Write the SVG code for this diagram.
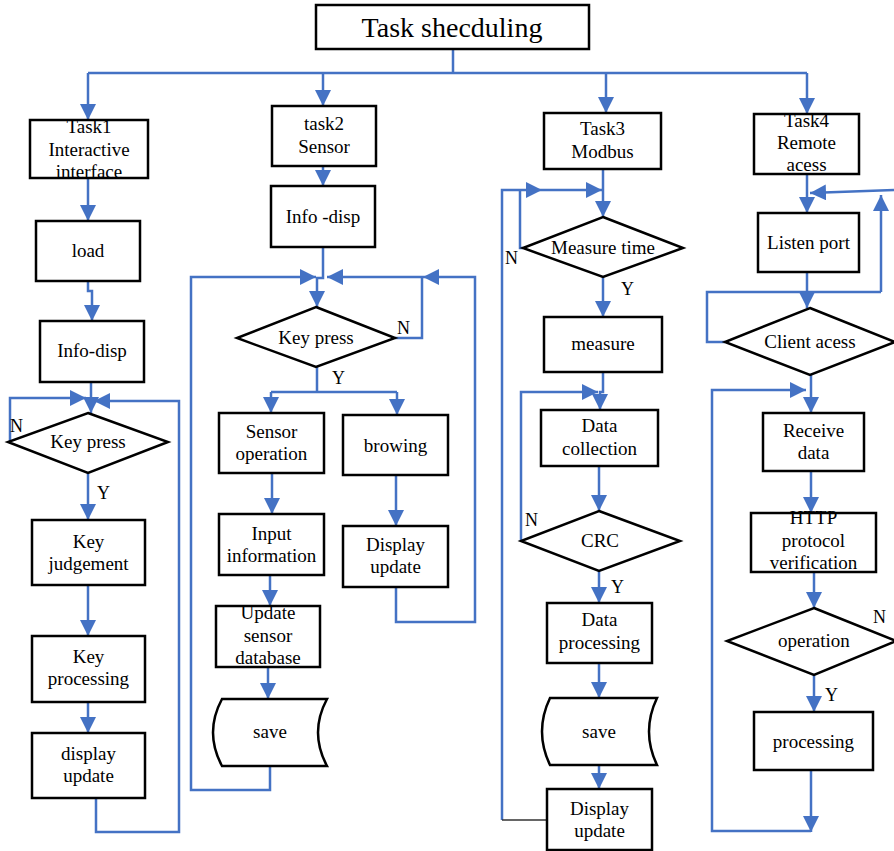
<svg xmlns="http://www.w3.org/2000/svg" width="894" height="851" viewBox="0 0 894 851">
<style>
.c{fill:none;stroke:#4472C4;stroke-width:2.5}
.a{marker-end:url(#ah)}
.n{fill:#fff;stroke:#000;stroke-width:2.5}
.t{font-family:"Liberation Serif","Times New Roman",serif;font-size:19px;text-anchor:middle;fill:#000}
.l{font-family:"Liberation Serif","Times New Roman",serif;font-size:18px;fill:#000}
</style>
<defs>
<marker id="ah" markerUnits="userSpaceOnUse" markerWidth="16" markerHeight="16" viewBox="0 0 16 16" refX="16" refY="8" orient="auto">
<path d="M0,0 L16,8 L0,16 Z" fill="#4472C4"/>
</marker>
</defs>
<rect width="894" height="851" fill="#fff"/>
<g id="connectors">
<path class="c" d="M453,49 V73 M88,73 H807"/>
<path class="c a" d="M88,73 V120"/>
<path class="c a" d="M323,73 V106"/>
<path class="c a" d="M606,73 V113"/>
<path class="c a" d="M807,73 V114"/>
<!-- task1 -->
<path class="c a" d="M88,178 V221"/>
<path class="c a" d="M88,281 V291 H92 V321"/>
<path class="c a" d="M91,382 V413"/>
<path class="c a" d="M10,442 V398 H86"/>
<path class="c a" d="M96,798 V832 H179 V401 H94"/>
<path class="c a" d="M88,473 V520"/>
<path class="c a" d="M88,585 V636"/>
<path class="c a" d="M88,702 V733"/>
<!-- task2 -->
<path class="c a" d="M323,166 V186"/>
<path class="c a" d="M323,247 V278 H317 V307"/>
<path class="c a" d="M270,766 V790 H191 V277 H316"/>
<path class="c a" d="M396,587 V622 H475 V277 H423"/>
<path class="c a" d="M423,277 H327"/>
<path class="c" d="M395,338 H422 V277"/>
<path class="c" d="M317,367 V392 M271,392 H397"/>
<path class="c a" d="M271,392 V413"/>
<path class="c a" d="M397,392 V415"/>
<path class="c a" d="M272,473 V514"/>
<path class="c a" d="M270,575 V606"/>
<path class="c a" d="M268,667 V699"/>
<path class="c a" d="M396,475 V526"/>
<!-- task3 -->
<path class="c a" d="M603,168 V217"/>
<path class="c a" d="M502,820 V190 H542"/>
<path class="c a" d="M542,190 H602"/>
<path d="M502,820 H547" fill="none" stroke="#333" stroke-width="1.3"/>
<path class="c" d="M523,248 H520 V190"/>
<path class="c a" d="M603,277 V317"/>
<path class="c a" d="M603,372 V392 H600 V410"/>
<path class="c a" d="M521,541 V392 H598"/>
<path class="c a" d="M599,466 V511"/>
<path class="c a" d="M599,571 V603"/>
<path class="c a" d="M599,663 V698"/>
<path class="c a" d="M599,765 V789"/>
<!-- task4 -->
<path class="c a" d="M807,173 V213"/>
<path class="c a" d="M894,190 L810,193"/>
<path class="c a" d="M881,292 V195"/>
<path class="c" d="M725,342 H707 V292 H881"/>
<path class="c a" d="M807,272 V308"/>
<path class="c a" d="M811,375 V413"/>
<path class="c a" d="M811,770 V832"/>
<path class="c a" d="M811,831 H712 V390 H806"/>
<path class="c a" d="M811,471 V513"/>
<path class="c a" d="M814,572 V608"/>
<path class="c a" d="M814,675 V712"/>
</g>
<g id="title"><rect class="n" x="316" y="5" width="273" height="44"/><text class="t" x="452" y="37" style="font-size:28px">Task shecduling</text></g>
<!-- Task1 column -->
<g id="task1"><rect class="n" x="30" y="120" width="118" height="58"/><text class="t" x="89" y="133">Task1</text><text class="t" x="89" y="156">Interactive</text><text class="t" x="89" y="178">interface</text></g>
<g id="load"><rect class="n" x="36" y="221" width="104" height="60"/><text class="t" x="88" y="257">load</text></g>
<g id="info1"><rect class="n" x="40" y="321" width="104" height="61"/><text class="t" x="92" y="357">Info-disp</text></g>
<g id="key1"><path class="n" d="M88,413 L168,442 L88,473 L8,442 Z"/><text class="t" x="88" y="448">Key press</text></g>
<g id="keyjudge"><rect class="n" x="32" y="520" width="113" height="65"/><text class="t" x="88.5" y="548">Key</text><text class="t" x="88.5" y="570">judgement</text></g>
<g id="keyproc"><rect class="n" x="32" y="636" width="113" height="66"/><text class="t" x="88.5" y="663">Key</text><text class="t" x="88.5" y="685">processing</text></g>
<g id="dispupd1"><rect class="n" x="32" y="733" width="113" height="65"/><text class="t" x="88.5" y="760">display</text><text class="t" x="88.5" y="782">update</text></g>
<!-- Task2 column -->
<g id="task2"><rect class="n" x="272" y="106" width="104" height="60"/><text class="t" x="324" y="130">task2</text><text class="t" x="324" y="153">Sensor</text></g>
<g id="info2"><rect class="n" x="271" y="186" width="104" height="61"/><text class="t" x="323" y="223">Info -disp</text></g>
<g id="key2"><path class="n" d="M316,307 L395,338 L316,367 L237,338 Z"/><text class="t" x="316" y="344">Key press</text></g>
<g id="sensorop"><rect class="n" x="219" y="413" width="105" height="60"/><text class="t" x="271.5" y="438">Sensor</text><text class="t" x="271.5" y="460">operation</text></g>
<g id="browing"><rect class="n" x="343" y="415" width="105" height="60"/><text class="t" x="395.5" y="452">browing</text></g>
<g id="inputinfo"><rect class="n" x="219" y="514" width="105" height="61"/><text class="t" x="271.5" y="540">Input</text><text class="t" x="271.5" y="562">information</text></g>
<g id="updsensor"><rect class="n" x="216" y="606" width="104" height="61"/><text class="t" x="268" y="619">Update</text><text class="t" x="268" y="642">sensor</text><text class="t" x="268" y="664">database</text></g>
<g id="save2"><path class="n" d="M222,699 H327 Q309,732.5 327,766 H222 Q204,732.5 222,699 Z"/><text class="t" x="270" y="738">save</text></g>
<g id="dispupd2"><rect class="n" x="343" y="526" width="105" height="61"/><text class="t" x="395.5" y="551">Display</text><text class="t" x="395.5" y="573">update</text></g>
<!-- Task3 column -->
<g id="task3"><rect class="n" x="544" y="113" width="117" height="56"/><text class="t" x="602.5" y="135">Task3</text><text class="t" x="602.5" y="158">Modbus</text></g>
<g id="meastime"><path class="n" d="M603,217 L683,248 L603,277 L523,248 Z"/><text class="t" x="603" y="254">Measure time</text></g>
<g id="measure"><rect class="n" x="544" y="317" width="118" height="55"/><text class="t" x="603" y="350">measure</text></g>
<g id="datacoll"><rect class="n" x="541" y="410" width="117" height="56"/><text class="t" x="599.5" y="432">Data</text><text class="t" x="599.5" y="455">collection</text></g>
<g id="crc"><path class="n" d="M599,511 L680,541 L599,571 L521,541 Z"/><text class="t" x="600" y="547">CRC</text></g>
<g id="dataproc"><rect class="n" x="547" y="603" width="105" height="60"/><text class="t" x="599.5" y="626">Data</text><text class="t" x="599.5" y="649">processing</text></g>
<g id="save3"><path class="n" d="M550,698 H657 Q641,731.5 657,765 H550 Q534,731.5 550,698 Z"/><text class="t" x="599" y="738">save</text></g>
<g id="dispupd3"><rect class="n" x="547" y="789" width="105" height="61"/><text class="t" x="599.5" y="815">Display</text><text class="t" x="599.5" y="837">update</text></g>
<!-- Task4 column -->
<g id="task4"><rect class="n" x="754" y="114" width="105" height="60"/><text class="t" x="806.5" y="127">Task4</text><text class="t" x="806.5" y="149">Remote</text><text class="t" x="806.5" y="171">acess</text></g>
<g id="listen"><rect class="n" x="758" y="213" width="101" height="59"/><text class="t" x="808.5" y="249">Listen port</text></g>
<g id="client"><path class="n" d="M810,308 L895,342 L810,375 L725,342 Z"/><text class="t" x="810" y="348">Client acess</text></g>
<g id="receive"><rect class="n" x="763" y="413" width="101" height="58"/><text class="t" x="813.5" y="437">Receive</text><text class="t" x="813.5" y="459">data</text></g>
<g id="http"><rect class="n" x="751" y="513" width="125" height="59"/><text class="t" x="813.5" y="524">HTTP</text><text class="t" x="813.5" y="547">protocol</text><text class="t" x="813.5" y="569">verification</text></g>
<g id="operation"><path class="n" d="M814,608 L896,641 L814,675 L727,641 Z"/><text class="t" x="814" y="647">operation</text></g>
<g id="processing"><rect class="n" x="754" y="712" width="119" height="58"/><text class="t" x="813.5" y="748">processing</text></g>
<g id="labels">
<text class="l" x="10" y="432">N</text>
<text class="l" x="97" y="499">Y</text>
<text class="l" x="397" y="334">N</text>
<text class="l" x="332" y="384">Y</text>
<text class="l" x="505" y="264">N</text>
<text class="l" x="621" y="295">Y</text>
<text class="l" x="525" y="526">N</text>
<text class="l" x="611" y="593">Y</text>
<text class="l" x="873" y="623">N</text>
<text class="l" x="825" y="701">Y</text>
</g>
</svg>
